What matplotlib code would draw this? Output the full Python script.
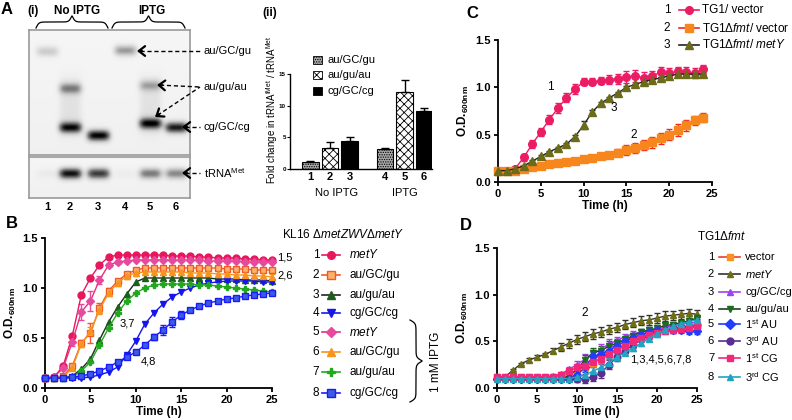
import numpy as np
import matplotlib
matplotlib.use('Agg')
import matplotlib.pyplot as plt
from matplotlib.patches import Rectangle

plt.rcParams['font.family'] = ['Liberation Sans', 'DejaVu Sans']
plt.rcParams['mathtext.fontset'] = 'custom'
plt.rcParams['mathtext.rm'] = 'Liberation Sans'
plt.rcParams['mathtext.it'] = 'Liberation Sans:italic'
plt.rcParams['mathtext.bf'] = 'Liberation Sans:bold'
plt.rcParams['hatch.linewidth'] = 0.6

# ---------------- data ----------------
# gel (A i): lane centres and bands (lane, row, darkness)
gel_lane_x = [18, 41, 69, 96, 121, 147]
top_band_lane = [1, 4, 2, 5, 2, 3, 5, 6]
top_band_row = [21, 20, 58, 55, 97, 105, 93, 97]
top_band_level = [0.22, 0.40, 0.42, 0.30, 0.80, 0.88, 0.82, 0.80]
smear_lanes = [2, 5]
low_band_level = [0.06, 0.85, 0.72, 0.05, 0.50, 0.45]
low_band_row = 16
lane_labels = ['1', '2', '3', '4', '5', '6']

# bar chart (A ii)
bar_labels = ['1', '2', '3', '4', '5', '6']
bar_values = [1.1, 3.3, 4.5, 3.2, 12.1, 9.1]
bar_errors = [0.2, 1.0, 0.5, 0.15, 1.9, 0.5]
bar_kind = [0, 1, 2, 0, 1, 2]
kind_names = ['au/GC/gu', 'au/gu/au', 'cg/GC/cg']

# panel B (0..25 h)
b_time = list(range(26))
b_metY = [0.10, 0.11, 0.22, 0.52, 0.93, 1.10, 1.23, 1.31, 1.33, 1.33, 1.33, 1.33, 1.33,
          1.33, 1.32, 1.32, 1.32, 1.31, 1.31, 1.30, 1.30, 1.30, 1.29, 1.29, 1.28, 1.28]
b_aGCg = [0.10, 0.10, 0.12, 0.22, 0.45, 0.55, 0.80, 0.97, 1.07, 1.14, 1.18, 1.20, 1.20,
          1.20, 1.20, 1.20, 1.20, 1.20, 1.20, 1.20, 1.19, 1.19, 1.19, 1.18, 1.18, 1.18]
b_augua = [0.10, 0.10, 0.10, 0.12, 0.19, 0.29, 0.48, 0.66, 0.81, 0.94, 1.06, 1.10, 1.10,
           1.10, 1.10, 1.10, 1.10, 1.10, 1.10, 1.09, 1.09, 1.09, 1.08, 1.08, 1.08, 1.07]
b_cGCc = [0.10, 0.10, 0.10, 0.10, 0.10, 0.11, 0.13, 0.16, 0.21, 0.33, 0.47, 0.64, 0.75,
          0.84, 0.91, 0.96, 1.00, 1.03, 1.05, 1.06, 1.07, 1.07, 1.07, 1.07, 1.06, 1.06]
b_metY_i = [0.10, 0.11, 0.20, 0.46, 0.76, 0.87, 1.08, 1.23, 1.26, 1.27, 1.28, 1.28, 1.28,
            1.28, 1.28, 1.28, 1.28, 1.28, 1.27, 1.27, 1.27, 1.27, 1.26, 1.26, 1.26, 1.26]
b_aGCg_i = [0.10, 0.10, 0.11, 0.20, 0.44, 0.57, 0.78, 0.95, 1.05, 1.12, 1.15, 1.16, 1.16,
            1.16, 1.16, 1.16, 1.15, 1.15, 1.15, 1.14, 1.14, 1.13, 1.13, 1.12, 1.12, 1.11]
b_augua_i = [0.10, 0.10, 0.10, 0.11, 0.17, 0.26, 0.43, 0.60, 0.75, 0.87, 0.95, 1.00, 1.03,
             1.04, 1.04, 1.04, 1.04, 1.03, 1.03, 1.02, 1.01, 1.00, 0.99, 0.98, 0.97, 0.96]
b_cGCc_i = [0.10, 0.10, 0.10, 0.11, 0.12, 0.14, 0.17, 0.21, 0.26, 0.31, 0.36, 0.43, 0.51,
            0.58, 0.66, 0.73, 0.78, 0.82, 0.85, 0.87, 0.89, 0.90, 0.92, 0.93, 0.94, 0.95]
b_err_aGCg = [0, 0, 0, 0.02, 0.03, 0.10, 0.05, 0.03, 0.02, 0.02, 0.02, 0.02, 0.02,
              0.02, 0.02, 0.02, 0.02, 0.02, 0.02, 0.02, 0.02, 0.02, 0.02, 0.02, 0.02, 0.02]
b_err_metY_i = [0, 0, 0.02, 0.04, 0.08, 0.10, 0.04, 0.02, 0.02, 0, 0, 0, 0,
                0, 0, 0, 0, 0, 0, 0, 0, 0, 0, 0, 0, 0]
b_err_aGCg_i = [0, 0, 0, 0.02, 0.03, 0.04, 0.04, 0.03, 0.03, 0.03, 0.03, 0.03, 0.03,
                0.03, 0.03, 0.03, 0.03, 0.03, 0.03, 0.03, 0.03, 0.03, 0.03, 0.03, 0.03, 0.03]
b_err_cGCc_i = [0, 0, 0, 0, 0, 0, 0, 0, 0.01, 0.02, 0.02, 0.02, 0.03, 0.05, 0.05, 0.04,
                0.02, 0.02, 0.02, 0.02, 0.02, 0.02, 0.02, 0.02, 0.02, 0.02]

# panel C (0..24 h)
c_time = list(range(25))
c_tg1 = [0.12, 0.12, 0.14, 0.26, 0.40, 0.53, 0.66, 0.78, 0.89, 0.98, 1.06, 1.06, 1.07,
         1.08, 1.09, 1.11, 1.12, 1.10, 1.12, 1.16, 1.15, 1.17, 1.16, 1.15, 1.19]
c_tg1_err = [0.02, 0.02, 0.02, 0.04, 0.04, 0.04, 0.05, 0.05, 0.05, 0.05, 0.04, 0.04, 0.04,
             0.05, 0.05, 0.06, 0.06, 0.06, 0.05, 0.05, 0.05, 0.05, 0.05, 0.05, 0.05]
c_fmt = [0.12, 0.12, 0.12, 0.14, 0.16, 0.17, 0.19, 0.20, 0.21, 0.22, 0.24, 0.25, 0.27,
         0.29, 0.31, 0.34, 0.36, 0.39, 0.42, 0.46, 0.50, 0.55, 0.60, 0.65, 0.68]
c_fmt_err = [0.01, 0.01, 0.01, 0.01, 0.01, 0.01, 0.01, 0.01, 0.01, 0.02, 0.02, 0.02, 0.02,
             0.03, 0.04, 0.05, 0.05, 0.05, 0.06, 0.06, 0.06, 0.06, 0.06, 0.05, 0.05]
c_metY = [0.12, 0.12, 0.14, 0.17, 0.22, 0.27, 0.32, 0.36, 0.40, 0.48, 0.60, 0.74, 0.83,
          0.89, 0.94, 1.00, 1.03, 1.06, 1.08, 1.10, 1.12, 1.14, 1.14, 1.14, 1.14]
c_metY_err = [0.01, 0.01, 0.01, 0.01, 0.01, 0.01, 0.01, 0.01, 0.01, 0.02, 0.04, 0.02, 0.02,
              0.01, 0.01, 0.01, 0.01, 0.01, 0.01, 0.01, 0.01, 0.01, 0.01, 0.01, 0.01]

# panel D (0..25 h)
d_time = list(range(26))
d_vector = [0.12, 0.12, 0.12, 0.12, 0.12, 0.12, 0.12, 0.12, 0.13, 0.15, 0.19, 0.23, 0.27,
            0.32, 0.37, 0.42, 0.46, 0.50, 0.54, 0.57, 0.60, 0.62, 0.63, 0.64, 0.65, 0.66]
d_metY = [0.12, 0.12, 0.19, 0.26, 0.30, 0.33, 0.36, 0.40, 0.44, 0.48, 0.52, 0.55, 0.58,
          0.60, 0.63, 0.65, 0.68, 0.70, 0.72, 0.73, 0.75, 0.77, 0.78, 0.79, 0.80, 0.79]
d_cg = [0.12, 0.12, 0.12, 0.12, 0.12, 0.12, 0.12, 0.13, 0.15, 0.20, 0.25, 0.31, 0.36,
        0.42, 0.47, 0.51, 0.55, 0.58, 0.60, 0.62, 0.63, 0.65, 0.67, 0.68, 0.70, 0.70]
d_augua = [0.10, 0.10, 0.10, 0.10, 0.10, 0.10, 0.10, 0.10, 0.10, 0.13, 0.20, 0.30, 0.38,
           0.40, 0.45, 0.48, 0.52, 0.56, 0.60, 0.62, 0.64, 0.67, 0.68, 0.70, 0.72, 0.75]
d_1AU = [0.10, 0.10, 0.10, 0.10, 0.10, 0.10, 0.10, 0.10, 0.10, 0.10, 0.14, 0.22, 0.34,
         0.36, 0.40, 0.45, 0.50, 0.54, 0.57, 0.60, 0.62, 0.62, 0.62, 0.62, 0.61, 0.61]
d_3AU = [0.10, 0.10, 0.10, 0.10, 0.10, 0.10, 0.10, 0.10, 0.10, 0.10, 0.10, 0.10, 0.12,
         0.16, 0.25, 0.33, 0.40, 0.46, 0.52, 0.56, 0.60, 0.62, 0.64, 0.65, 0.66, 0.67]
d_1CG = [0.12, 0.12, 0.12, 0.12, 0.12, 0.12, 0.12, 0.12, 0.14, 0.18, 0.22, 0.24, 0.28,
         0.31, 0.36, 0.41, 0.45, 0.50, 0.54, 0.57, 0.59, 0.61, 0.62, 0.63, 0.64, 0.66]
d_3CG = [0.10, 0.10, 0.10, 0.10, 0.10, 0.10, 0.10, 0.10, 0.10, 0.10, 0.12, 0.14, 0.18,
         0.22, 0.27, 0.33, 0.38, 0.43, 0.48, 0.53, 0.58, 0.62, 0.66, 0.69, 0.71, 0.73]
d_metY_err = [0.01, 0.01, 0.01, 0.01, 0.02, 0.02, 0.02, 0.03, 0.04, 0.05, 0.05, 0.05, 0.05,
              0.05, 0.05, 0.05, 0.05, 0.05, 0.05, 0.05, 0.05, 0.05, 0.05, 0.05, 0.05, 0.05]
d_other_err = [0.01, 0.01, 0.01, 0.01, 0.01, 0.01, 0.01, 0.01, 0.02, 0.03, 0.04, 0.05, 0.05,
               0.05, 0.05, 0.04, 0.03, 0.03, 0.03, 0.03, 0.03, 0.03, 0.03, 0.03, 0.03, 0.03]

W, H = 792, 420
fig = plt.figure(figsize=(W / 100, H / 100), dpi=100)


def px_axes(x0, y0, x1, y1, **kw):
    return fig.add_axes([x0 / W, 1 - y1 / H, (x1 - x0) / W, (y1 - y0) / H], **kw)


# ---------------- A (i) gel ----------------
def gel_image(h, w, bands, smear=None):
    yy, xx = np.mgrid[0:h, 0:w]
    img = np.full((h, w), 0.08) + 0.04 * (yy / h)
    for lane, row, lvl in bands:
        lx = gel_lane_x[lane - 1]
        img += lvl * np.exp(-((xx - lx) / 11.5) ** 4) * np.exp(-((yy - row) / 5.5) ** 2)
    if smear:
        for lane in smear:
            lx = gel_lane_x[lane - 1]
            img += 0.10 * np.exp(-((xx - lx) / 11.5) ** 4) * np.exp(-((yy - 75) / 30.0) ** 4)
    return np.clip(img, 0, 1)


top = gel_image(125, 161, list(zip(top_band_lane, top_band_row, top_band_level)), smear_lanes)
low = gel_image(41, 161, [(i + 1, low_band_row, v) for i, v in enumerate(low_band_level)])
for (y0, y1), img in [((30, 155), top), ((157, 198), low)]:
    g = px_axes(29, y0, 190, y1)
    g.imshow(img, cmap='Greys', vmin=0, vmax=1, aspect='auto', interpolation='bicubic',
             extent=(0, img.shape[1], img.shape[0], 0))
    g.set_xticks([]); g.set_yticks([])
    for s in g.spines.values():
        s.set_color('#9a9a9a'); s.set_linewidth(1.2)

# ---------------- A (ii) bars ----------------
axb = px_axes(290, 74, 432, 169)
gap = 0.8
bar_x = [i + (gap if i >= 3 else 0) for i in range(len(bar_values))]
faces = ['#a8a8a8', 'white', 'black']
hatches = ['.......', 'xxxx', None]
for x, v, k in zip(bar_x, bar_values, bar_kind):
    axb.bar(x, v, width=0.85, color=faces[k], edgecolor='black', linewidth=0.8, hatch=hatches[k])
axb.errorbar(bar_x, bar_values, yerr=[np.zeros(6), bar_errors], fmt='none', ecolor='black',
             elinewidth=1, capsize=3, capthick=1)
axb.set_xlim(-1.03, 6.2)
axb.set_ylim(0, 15)
axb.set_yticks([0, 5, 10, 15])
axb.set_yticklabels(['0', '5', '10', '15'], fontsize=4.5, fontweight='bold')
axb.set_xticks(bar_x)
axb.set_xticklabels(bar_labels, fontsize=8, fontweight='bold')
axb.tick_params(axis='x', length=0, pad=2)
axb.tick_params(axis='y', length=2, width=0.8, pad=1)
for s in ['top', 'right']:
    axb.spines[s].set_visible(False)
for s in ['left', 'bottom']:
    axb.spines[s].set_linewidth(1.0)


# ---------------- growth panels ----------------
def style_growth(ax):
    ax.set_xlim(0, 25); ax.set_ylim(0, 1.5)
    ax.set_xticks([0, 5, 10, 15, 20, 25])
    ax.set_xticklabels(['0', '5', '10', '15', '20', '25'], fontsize=8, fontweight='bold')
    ax.set_yticks([0, 0.5, 1.0, 1.5])
    ax.set_yticklabels(['0.0', '0.5', '1.0', '1.5'], fontsize=8, fontweight='bold')
    ax.tick_params(direction='out', length=3, width=1.3, pad=2)
    for s in ['top', 'right']:
        ax.spines[s].set_visible(False)
    for s in ['left', 'bottom']:
        ax.spines[s].set_linewidth(1.3)
    ax.set_xlabel('Time (h)', fontsize=8.5, fontweight='bold', labelpad=1)
    ax.set_ylabel(r'O.D.$_{\bf 600nm}$', fontsize=8.5, fontweight='bold', labelpad=3)


def series(ax, t, y, err, color, marker, lcolor=None, mfc=None, mec=None, ms=4.5, ecolor=None):
    ax.plot(t, y, color=lcolor or color, lw=1.0, marker=marker, ms=ms,
            mfc=mfc or color, mec=mec or color, clip_on=False, zorder=3)
    if err is not None:
        ax.errorbar(t, y, yerr=err, fmt='none', ecolor=ecolor or color, elinewidth=1,
                    capsize=2.2, capthick=1, clip_on=False, zorder=2)


# B
B_styles = [
    (b_metY, None, '#e8175d', 'o', None, None, None),
    (b_aGCg, b_err_aGCg, '#f7941d', 's', '#f15a24', '#fbb26a', '#f15a24'),
    (b_augua, None, '#1d5e1d', '^', '#1a2a1a', None, None),
    (b_cGCc, None, '#1515ee', 'v', None, None, None),
    (b_metY_i, b_err_metY_i, '#e64a9e', 'D', '#e8307a', None, None),
    (b_aGCg_i, b_err_aGCg_i, '#f7941d', '^', None, None, None),
    (b_augua_i, None, '#22a81f', 'P', None, None, None),
    (b_cGCc_i, b_err_cGCc_i, '#3b5be0', 's', '#1a1aff', None, '#1a1aff'),
]
axB = px_axes(45, 238, 272, 388)
for y, e, c, m, lc, mfc, mec in B_styles:
    series(axB, b_time, y, e, c, m, lcolor=lc, mfc=mfc, mec=mec,
           ms=4.2 if m == 'D' else 5, ecolor=lc if m == 's' else None)
style_growth(axB)
axB.text(9.1, 0.65, '3,7', fontsize=8, ha='center', va='center')
axB.text(11.4, 0.26, '4,8', fontsize=8, ha='center', va='center')

# C
axC = px_axes(498, 40, 712, 182)
series(axC, c_time, c_tg1, c_tg1_err, '#ec1c64', 'o', ms=5.5)
series(axC, c_time, c_fmt, c_fmt_err, '#f7861d', 's', ms=5.5, ecolor='#ee2a24', lcolor='#f7861d')
series(axC, c_time, c_metY, c_metY_err, '#6b6b1a', '^', lcolor='#222222', ms=5.5, ecolor='#222222')
style_growth(axC)
axC.text(6.1, 1.0, '1', fontsize=8.5, ha='center', va='center')
axC.text(13.5, 0.78, '3', fontsize=8.5, ha='center', va='center')
axC.text(15.9, 0.50, '2', fontsize=8.5, ha='center', va='center')

# D
D_styles = [
    (d_vector, '#f7931e', 's', '#e8412c'),
    (d_metY, '#6e6e16', '^', '#333333'),
    (d_cg, '#a040f0', '^', '#a040f0'),
    (d_augua, '#1e6b1e', 'v', '#1e3f1e'),
    (d_1AU, '#1f3cff', 'D', '#1f3cff'),
    (d_3AU, '#5b2d8e', 'o', '#5b2d8e'),
    (d_1CG, '#f0287a', 's', '#f0287a'),
    (d_3CG, '#22a3c4', '^', '#22a3c4'),
]
axD = px_axes(497, 248, 697, 388)
for i, (y, c, m, lc) in enumerate(D_styles):
    err = d_metY_err if i == 1 else d_other_err
    series(axD, d_time, y, err, c, m, lcolor=lc, ms=4 if m == 'D' else 4.8,
           ecolor='#333333' if i == 1 else c)
style_growth(axD)
axD.text(11, 0.80, '2', fontsize=8.5, ha='center', va='center')
axD.text(16.6, 0.30, '1,3,4,5,6,7,8', fontsize=8, ha='left', va='center')

# ---------------- overlay: labels, legends, braces ----------------
ov = fig.add_axes([0, 0, 1, 1], zorder=10)
ov.set_xlim(0, W); ov.set_ylim(H, 0); ov.axis('off')


def brace(x0, x1, end, tip, vertical=False, beta=0.7):
    n = 100
    w = (x1 - x0) / 2.0
    u = np.linspace(0, w, n)
    yh = 1 / (1 + np.exp(-beta * u)) + 1 / (1 + np.exp(-beta * (u - w)))
    yh = (yh - yh[0]) / (yh[-1] - yh[0])
    prof = np.concatenate([yh, yh[::-1]])
    pos = np.linspace(x0, x1, 2 * n)
    off = end + (tip - end) * prof
    if vertical:
        ov.plot(off, pos, color='black', lw=0.9)
    else:
        ov.plot(pos, off, color='black', lw=0.9)


bold = dict(fontweight='bold')
ov.text(7, 9, 'A', fontsize=12, ha='center', va='center', **bold)
ov.text(33, 11, '(i)', fontsize=8.5, ha='center', va='center', **bold)
ov.text(77, 11, 'No IPTG', fontsize=8.5, ha='center', va='center', **bold)
ov.text(152, 11, 'IPTG', fontsize=8.5, ha='center', va='center', **bold)
brace(36, 108, 28, 16)
brace(112, 185, 28, 16)
ov.text(270, 13, '(ii)', fontsize=8.5, ha='center', va='center', **bold)
ov.text(12, 223, 'B', fontsize=12, ha='center', va='center', **bold)
ov.text(472, 13, 'C', fontsize=12, ha='center', va='center', **bold)
ov.text(466, 225, 'D', fontsize=12, ha='center', va='center', **bold)

for lx, lab in zip(gel_lane_x, lane_labels):
    ov.text(29 + lx, 207, lab, fontsize=8, ha='center', va='center', **bold)

# gel arrows
gel_tags = [('au/GC/gu', 51, [(137, 51)]),
            ('au/gu/au', 87, [(157, 85), (155, 117)]),
            ('cg/GC/cg', 127, [(182, 127)]),
            ('tRNA$^{\\rm Met}$', 173, [(182, 173)])]
for text, y, heads in gel_tags:
    ov.text(204, y, text, fontsize=8, ha='left', va='center')
    for hx, hy in heads:
        d = np.array([200 - hx, y - hy], float)
        d /= np.hypot(*d)
        ov.plot([hx + 3 * d[0], 200], [hy + 3 * d[1], y], color='black', lw=1, ls=(0, (3, 2)))
        ov.annotate('', xy=(hx, hy), xytext=(hx + 5 * d[0], hy + 5 * d[1]),
                    arrowprops=dict(arrowstyle='->,head_length=0.45,head_width=0.35',
                                    lw=1.6, color='black', shrinkA=0, shrinkB=0))

# bar chart labels and legend
ov.text(272, 110, 'Fold change in tRNA$^{\\rm fMet}$ / tRNA$^{\\rm Met}$', fontsize=7,
        rotation=90, ha='center', va='center')
ov.text(337, 193, 'No IPTG', fontsize=8, ha='center', va='center')
ov.text(405, 193, 'IPTG', fontsize=8, ha='center', va='center')
for k, yy in enumerate([60, 75, 91]):
    ov.add_patch(Rectangle((313, yy - 4), 9, 8, facecolor=faces[k], edgecolor='black',
                           lw=0.6, hatch=hatches[k]))
    ov.text(327, yy, kind_names[k], fontsize=8, ha='left', va='center')

# legend B
ov.text(282, 235, r'KL16 $\Delta\it{metZWV}\Delta\it{metY}$', fontsize=8.5, ha='left', va='center')
b_names = [r'$\it{metY}$', 'au/GC/gu', 'au/gu/au', 'cg/GC/cg',
           r'$\it{metY}$', 'au/GC/gu', 'au/gu/au', 'cg/GC/cg']
b_rows = [255, 275, 295, 313, 332, 352, 372, 393]
for i, ((y, e, c, m, lc, mfc, mec), name, yy) in enumerate(zip(B_styles, b_names, b_rows)):
    ov.text(316, yy, str(i + 1), fontsize=8.5, ha='center', va='center')
    ov.plot([322, 340], [yy, yy], color=lc or c, lw=1.2)
    ov.plot([331], [yy], marker=m, ms=5.5, mfc=mfc or c, mec=mec or c, color=c)
    ov.text(349, yy, name, fontsize=8.5, ha='left', va='center')
ov.text(285, 258, '1,5', fontsize=8, ha='center', va='center')
ov.text(285, 276, '2,6', fontsize=8, ha='center', va='center')
brace(320, 402, 410, 422, vertical=True, beta=0.6)
ov.text(436, 362, '1 mM IPTG', fontsize=8.5, rotation=90, ha='center', va='center')

# legend C
c_leg = [('TG1/ vector', '#ec1c64', 'o', '#ec1c64'),
         (r'TG1$\Delta\it{fmt}$/ vector', '#f7861d', 's', '#ee2a24'),
         (r'TG1$\Delta\it{fmt}$/ $\it{metY}$', '#6b6b1a', '^', '#222222')]
for i, ((name, c, m, lc), yy) in enumerate(zip(c_leg, [10, 28, 45])):
    ov.text(667, yy, str(i + 1), fontsize=8.5, ha='center', va='center')
    ov.plot([679, 699], [yy, yy], color=lc, lw=1.2)
    ov.plot([689], [yy], marker=m, ms=5.5, color=c)
    ov.text(702, yy, name, fontsize=8.5, ha='left', va='center')

# legend D
ov.text(697, 237, r'TG1$\Delta\it{fmt}$', fontsize=8.5, ha='left', va='center')
d_names = ['vector', r'$\it{metY}$', 'cg/GC/cg', 'au/gu/au',
           r'1$^{\rm st}$ AU', r'3$^{\rm rd}$ AU', r'1$^{\rm st}$ CG', r'3$^{\rm rd}$ CG']
d_rows = [257, 274, 292, 309, 324, 341, 358, 377]
for i, ((y, c, m, lc), name, yy) in enumerate(zip(D_styles, d_names, d_rows)):
    ov.text(711, yy, str(i + 1), fontsize=8, ha='center', va='center')
    ov.plot([719, 740], [yy, yy], color=lc, lw=1.2)
    ov.plot([729.5], [yy], marker=m, ms=5, color=c)
    ov.text(745, yy, name, fontsize=8, ha='left', va='center')

fig.savefig('out.png', dpi=100)
